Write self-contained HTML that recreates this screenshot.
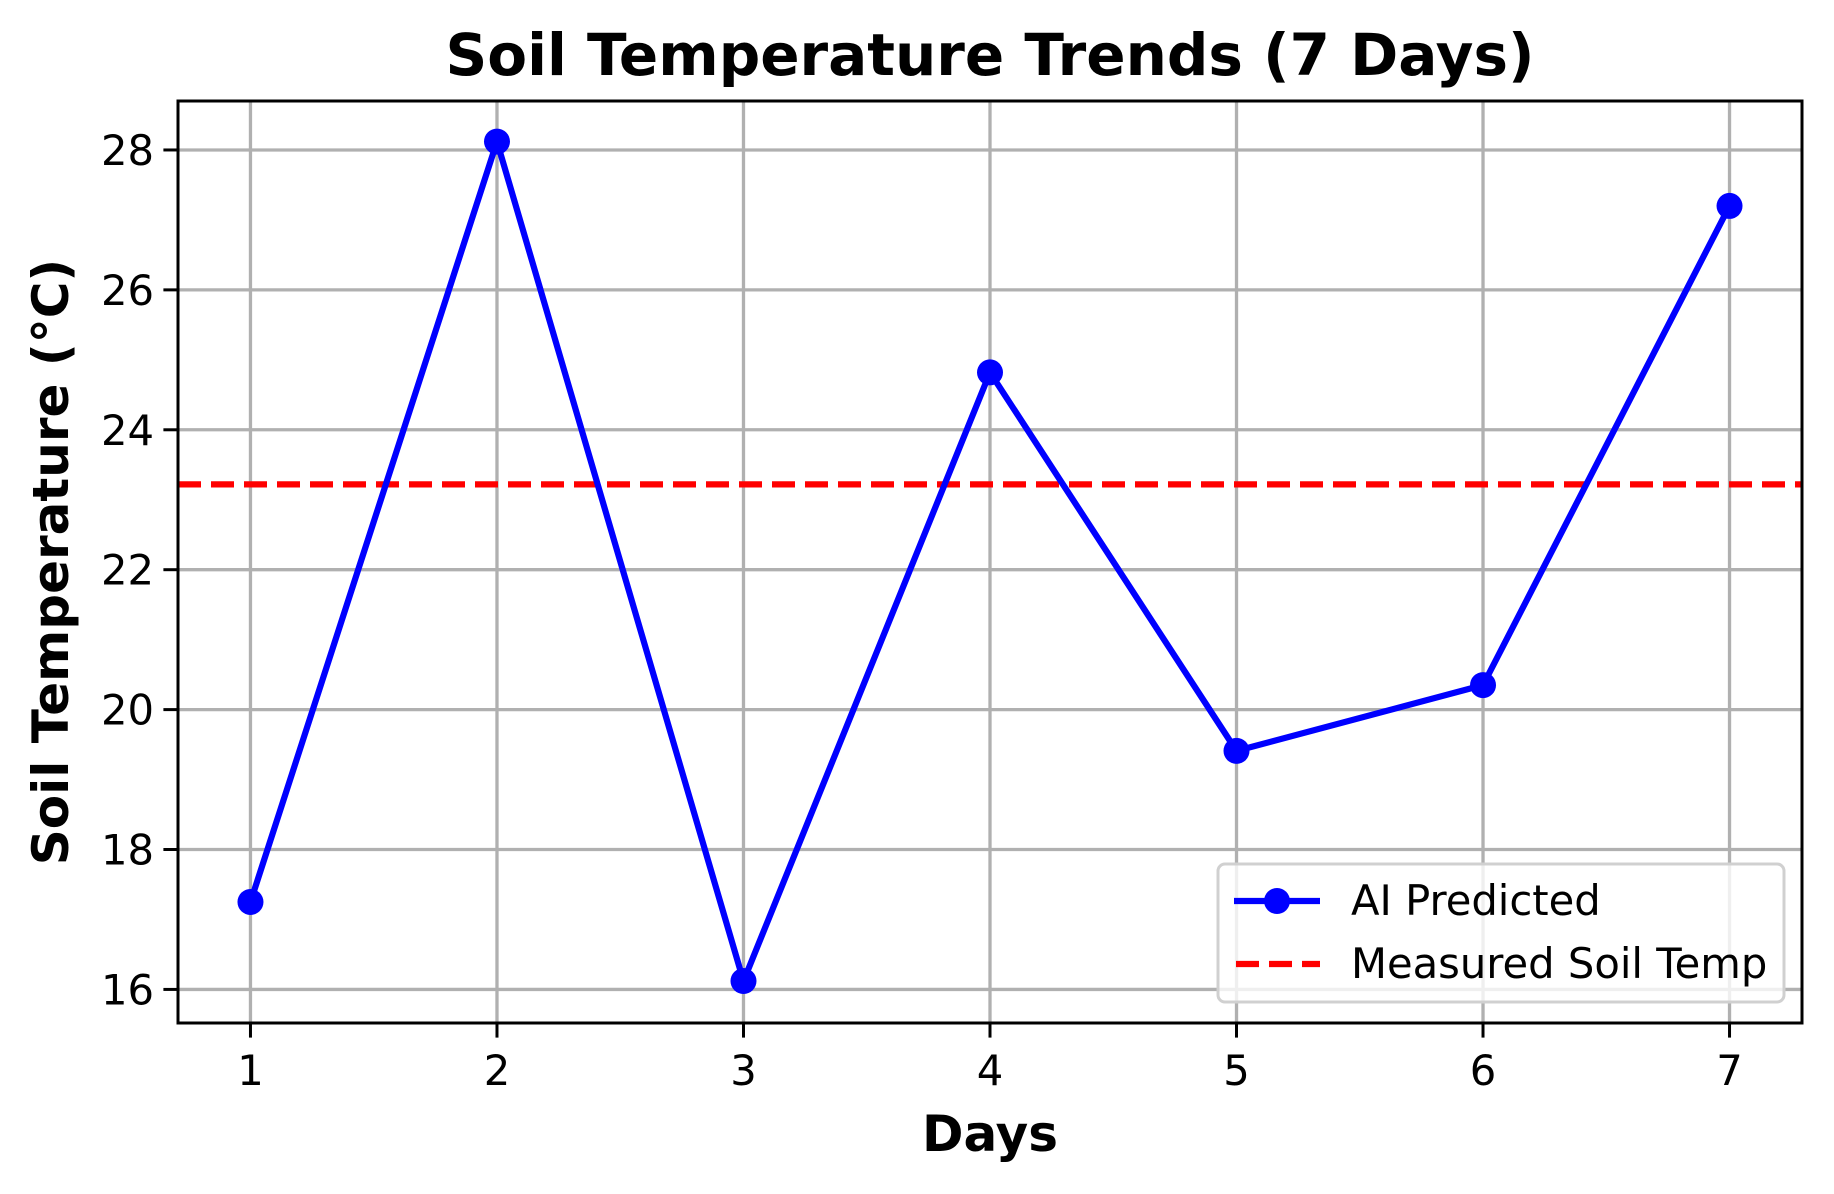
<!DOCTYPE html>
<html><head><meta charset="utf-8"><style>
html,body{margin:0;padding:0;background:#fff;}
svg text{font-family:"DejaVu Sans","Liberation Sans",sans-serif;}
</style></head><body>
<svg id="chart" width="1834" height="1189" viewBox="0 0 1834 1189" xmlns="http://www.w3.org/2000/svg">
<rect width="1834" height="1189" fill="#fff"/>
<g id="grid"></g>
<g id="ticks"></g>
<g id="series"></g>
<rect x="178" y="101" width="1624" height="922" fill="none" stroke="#000" stroke-width="3"/>
<text x="990" y="75" font-size="58" font-weight="bold" text-anchor="middle">Soil Temperature Trends (7 Days)</text>
<text x="990" y="1151" font-size="50" font-weight="bold" text-anchor="middle">Days</text>
<text transform="translate(68,562) rotate(-90)" font-size="50" font-weight="bold" text-anchor="middle">Soil Temperature (°C)</text>
<g>
<rect x="1218" y="864" width="566" height="138" rx="7" fill="#fff" fill-opacity="0.8" stroke="#d0d0d0" stroke-width="3"/>
<line x1="1234" y1="901" x2="1320" y2="901" stroke="#0000ff" stroke-width="6.2"/>
<circle cx="1277" cy="901" r="13" fill="#0000ff"/>
<text x="1351" y="915" font-size="41.7">AI Predicted</text>
<line x1="1236" y1="964" x2="1320" y2="964" stroke="#ff0000" stroke-width="6.2" stroke-dasharray="23 10"/>
<text x="1351" y="978" font-size="41.7">Measured Soil Temp</text>
</g>
</svg>
<script>
const days = [1, 2, 3, 4, 5, 6, 7];
const predicted = [17.25, 28.12, 16.12, 24.82, 19.41, 20.35, 27.2];
const measured = [23.22];
const xTicks = [1, 2, 3, 4, 5, 6, 7];
const yTicks = [16, 18, 20, 22, 24, 26, 28];

const L = 178, R = 1802, T = 101, B = 1023;
const xMin = 0.706, xMax = 7.294, yMin = 15.52, yMax = 28.70;
const NS = 'http://www.w3.org/2000/svg';
function sx(v){ return L + (v - xMin) / (xMax - xMin) * (R - L); }
function sy(v){ return B - (v - yMin) / (yMax - yMin) * (B - T); }
function mk(tag, attrs, parent){
  const e = document.createElementNS(NS, tag);
  for (const k in attrs) e.setAttribute(k, attrs[k]);
  parent.appendChild(e);
  return e;
}
const grid = document.getElementById('grid');
const ticks = document.getElementById('ticks');
const series = document.getElementById('series');

xTicks.forEach(function(t){
  const x = sx(t);
  const g = mk('line', {x1:x, y1:T, x2:x, y2:B, stroke:'#b0b0b0', 'stroke-width':3.3}, grid);
  
  
  const tk = mk('line', {x1:x, y1:B, x2:x, y2:B+14.6, stroke:'#000', 'stroke-width':3}, ticks);
  
  
  const lb = mk('text', {x:x, y:B+62, 'font-size':41.7, 'text-anchor':'middle'}, ticks);
  lb.textContent = String(t);
  
  
});
yTicks.forEach(function(t){
  const y = sy(t);
  const g = mk('line', {x1:L, y1:y, x2:R, y2:y, stroke:'#b0b0b0', 'stroke-width':3.3}, grid);
  
  
  const tk = mk('line', {x1:L-14.6, y1:y, x2:L, y2:y, stroke:'#000', 'stroke-width':3}, ticks);
  
  
  const lb = mk('text', {x:L-24, y:y+15, 'font-size':41.7, 'text-anchor':'end'}, ticks);
  lb.textContent = String(t);
  
  
});

measured.forEach(function(v){
  const y = sy(v);
  const ln = mk('line', {x1:L, y1:y, x2:R, y2:y, stroke:'#ff0000', 'stroke-width':6.2, 'stroke-dasharray':'23 10'}, series);
  
  
});

const pts = days.map(function(d, i){ return sx(d) + ',' + sy(predicted[i]); }).join(' ');
const pl = mk('polyline', {points:pts, fill:'none', stroke:'#0000ff', 'stroke-width':6.2, 'stroke-linejoin':'round'}, series);


days.forEach(function(d, i){
  const c = mk('circle', {cx:sx(d), cy:sy(predicted[i]), r:13, fill:'#0000ff'}, series);
  
  
});
</script>
</body></html>
